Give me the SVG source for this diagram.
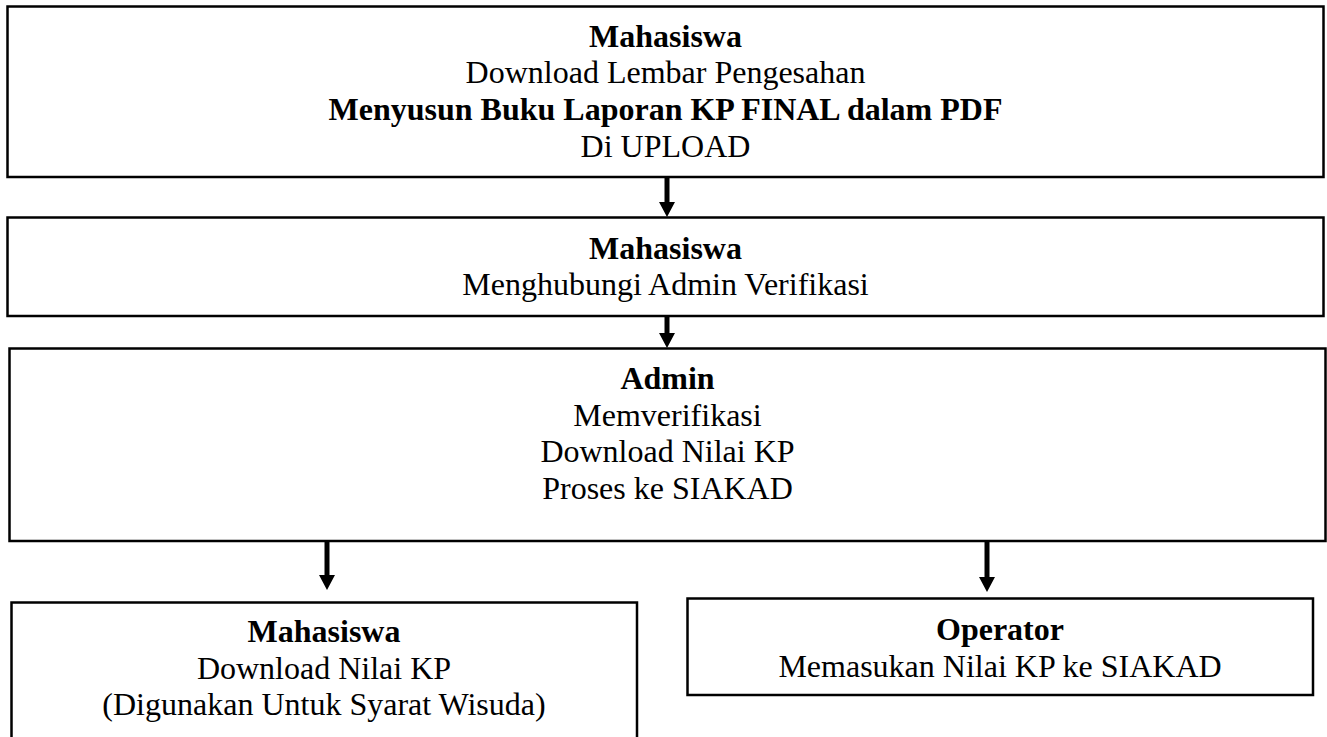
<svg xmlns="http://www.w3.org/2000/svg" width="1327" height="737" viewBox="0 0 1327 737">
<style>
.box{fill:#fff;stroke:#000;stroke-width:2.5}
.t{font-family:"Liberation Serif","Times New Roman",serif;font-size:32px;fill:#000;text-anchor:middle}
.b{font-weight:bold}
.conn{stroke:#000;stroke-width:5;fill:none}
</style>
<defs>
<marker id="ah" markerUnits="userSpaceOnUse" markerWidth="16" markerHeight="16" refX="1" refY="8" orient="auto" viewBox="0 0 16 16">
<path d="M0,0 L15,8 L0,16 z" fill="#000"/>
</marker>
</defs>
<rect width="1327" height="737" fill="#fff"/>
<g id="node1">
<rect class="box" x="7.5" y="6.5" width="1316" height="170.5"/>
<text class="t b" x="665.5" y="46.5">Mahasiswa</text>
<text class="t" x="665.5" y="83.2">Download Lembar Pengesahan</text>
<text class="t b" x="665.5" y="120">Menyusun Buku Laporan KP FINAL dalam PDF</text>
<text class="t" x="665.5" y="156.7">Di UPLOAD</text>
</g>
<g id="node2">
<rect class="box" x="7.5" y="217.5" width="1316" height="98.5"/>
<text class="t b" x="665.5" y="258.5">Mahasiswa</text>
<text class="t" x="665.5" y="295">Menghubungi Admin Verifikasi</text>
</g>
<g id="node3">
<rect class="box" x="9.5" y="348.5" width="1316" height="192.5"/>
<text class="t b" x="667.5" y="389">Admin</text>
<text class="t" x="667.5" y="425.7">Memverifikasi</text>
<text class="t" x="667.5" y="462.4">Download Nilai KP</text>
<text class="t" x="667.5" y="499">Proses ke SIAKAD</text>
</g>
<g id="node4">
<rect class="box" x="11.5" y="602.5" width="625.5" height="150"/>
<text class="t b" x="324" y="642">Mahasiswa</text>
<text class="t" x="324" y="678.5">Download Nilai KP</text>
<text class="t" x="324" y="715">(Digunakan Untuk Syarat Wisuda)</text>
</g>
<g id="node5">
<rect class="box" x="687.5" y="598.5" width="625.5" height="96.5"/>
<text class="t b" x="1000" y="640">Operator</text>
<text class="t" x="1000" y="677">Memasukan Nilai KP ke SIAKAD</text>
</g>
<g id="connectors">
<line class="conn" x1="667" y1="177" x2="667" y2="203" marker-end="url(#ah)"/>
<line class="conn" x1="667" y1="316" x2="667" y2="334" marker-end="url(#ah)"/>
<line class="conn" x1="327" y1="541" x2="327" y2="576" marker-end="url(#ah)"/>
<line class="conn" x1="987" y1="541" x2="987" y2="578" marker-end="url(#ah)"/>
</g>
</svg>
